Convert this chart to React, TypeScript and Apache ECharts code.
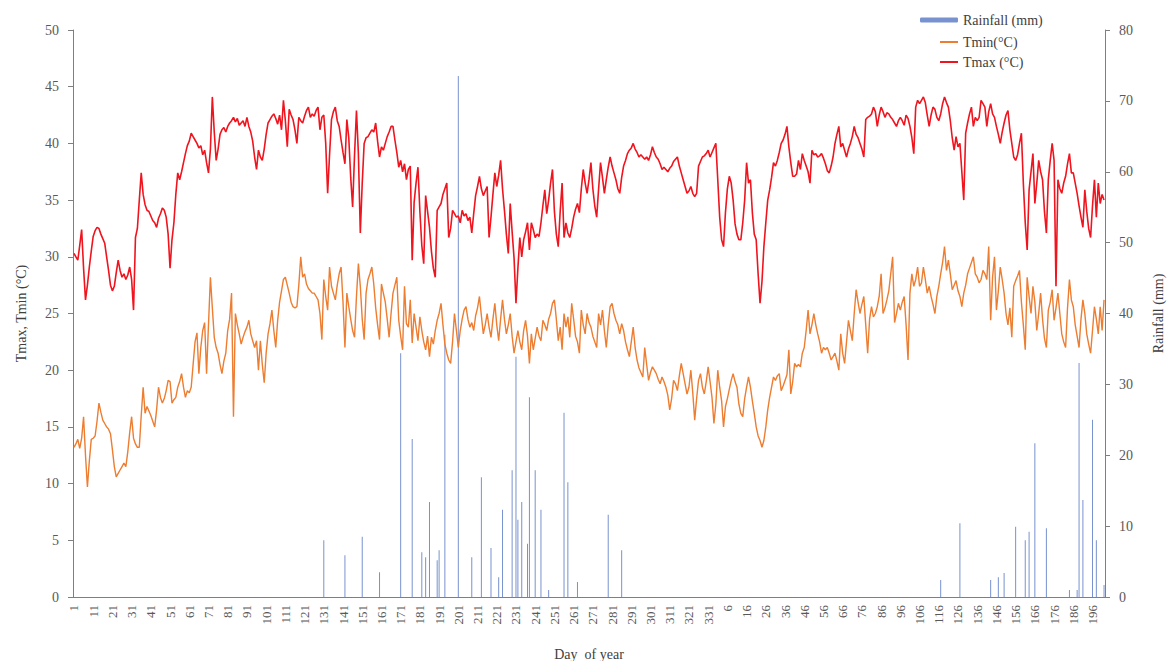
import React, { useEffect, useRef } from "react";
import * as echarts from "echarts";

// Day-of-year labels: first year days 1..335, second year days 1..202
const year1Days: number[] = Array.from({ length: 335 }, (_, k) => k + 1);
const year2Days: number[] = Array.from({ length: 202 }, (_, k) => k + 1);
const dayLabels: string[] = [...year1Days, ...year2Days].map(String);

// Daily maximum temperature (°C)
const tmax: number[] = [
  30.3, 30.0, 29.7, 31.0, 32.4, 29.0, 26.2, 27.5, 29.1, 30.5,
  31.8, 32.3, 32.6, 32.5, 32.0, 31.6, 31.2, 30.0, 28.8, 27.5,
  27.0, 27.4, 28.6, 29.7, 28.8, 28.2, 28.5, 28.0, 28.4, 29.1,
  28.0, 25.3, 31.7, 32.5, 35.0, 37.4, 35.5, 34.6, 34.1, 34.0,
  33.6, 33.2, 33.0, 32.6, 33.4, 33.8, 34.3, 34.1, 33.5, 32.0,
  29.0, 31.5, 33.0, 35.5, 37.4, 36.8, 37.5, 38.3, 39.1, 39.8,
  40.2, 40.9, 40.6, 40.3, 40.0, 39.6, 39.8, 39.0, 39.4, 38.3,
  37.4, 39.5, 44.1, 41.0, 38.5, 39.5, 40.8, 41.2, 41.4, 41.0,
  41.5, 41.8, 42.0, 42.3, 41.9, 42.2, 41.6, 41.8, 42.0, 41.5,
  42.3, 41.5, 41.0, 40.2, 38.8, 37.7, 39.4, 38.8, 38.5, 39.5,
  40.8, 41.8, 42.1, 42.4, 42.6, 42.2, 41.7, 42.5, 41.2, 43.8,
  42.0, 39.7, 43.0, 42.5, 42.1, 41.2, 40.0, 42.3, 42.0, 41.8,
  42.4, 42.9, 43.2, 42.3, 42.6, 42.4, 42.9, 43.2, 41.2, 42.3,
  42.5, 40.0, 35.6, 39.0, 42.1, 42.8, 43.2, 42.0, 41.5, 40.3,
  39.2, 38.2, 42.1, 40.5, 37.0, 34.4, 39.0, 42.9, 39.1, 32.1,
  36.5, 40.0, 40.5, 40.6, 40.9, 41.2, 41.0, 41.8, 40.2, 38.8,
  39.7, 39.4, 40.0, 40.6, 41.0, 41.5, 41.5, 40.3, 39.2, 37.9,
  38.5, 37.5, 38.2, 36.8, 37.7, 38.0, 29.7, 34.8, 36.5, 37.9,
  34.0, 31.0, 29.4, 35.4, 34.0, 32.6, 30.5, 29.0, 28.2, 34.1,
  34.4, 34.7, 35.5, 36.0, 36.5, 31.7, 32.5, 34.1, 33.8, 33.5,
  33.6, 33.0, 34.1, 33.6, 33.8, 33.2, 33.5, 32.1, 33.8, 35.4,
  36.2, 37.1, 36.0, 35.4, 35.8, 36.2, 31.7, 33.5, 35.5, 37.4,
  36.2, 37.2, 38.5, 36.0, 34.1, 32.0, 30.3, 34.7, 32.2, 29.9,
  25.9, 29.0, 31.7, 30.0, 31.5, 32.2, 33.0, 30.6, 33.0, 32.4,
  31.7, 32.0, 31.8, 33.0, 34.5, 35.9, 33.8, 35.0, 36.5, 37.7,
  34.0, 32.0, 30.9, 34.0, 36.5, 31.7, 33.0, 32.1, 31.7, 32.5,
  33.5, 34.2, 34.7, 33.9, 36.0, 37.7, 36.5, 35.6, 36.8, 38.3,
  36.0, 34.5, 33.5, 36.0, 38.3, 37.0, 35.6, 36.8, 37.9, 38.8,
  38.0, 37.4, 36.8, 36.0, 35.6, 37.0, 38.0, 38.5, 39.1, 39.4,
  39.6, 40.0, 39.5, 39.2, 38.8, 39.0, 38.8, 38.6, 38.8, 38.5,
  39.0, 39.7, 39.2, 38.8, 38.6, 38.2, 37.7, 37.9, 37.7, 37.5,
  37.8, 38.0, 38.4, 38.6, 38.8, 38.0, 37.4, 36.8, 36.2, 35.6,
  35.8, 36.2, 35.6, 35.3, 35.6, 38.0, 38.4, 38.8, 38.9, 39.1,
  39.4, 38.8, 39.2, 39.6, 40.0, 36.8, 33.5, 31.5, 30.9, 33.9,
  36.0, 37.1, 36.5, 35.0, 32.9, 32.0, 31.5, 31.5, 33.0, 35.0,
  38.3, 36.5, 36.8, 33.9, 32.0, 31.5, 28.5, 25.9, 27.8, 30.9,
  33.0, 35.0, 35.9, 37.0, 38.3, 38.0, 38.5, 39.2, 40.0, 40.3,
  40.8, 41.5, 39.7, 38.3, 37.1, 37.1, 37.3, 38.5, 37.7, 39.1,
  38.5, 38.0, 37.5, 36.5, 39.4, 39.0, 39.1, 38.8, 38.9, 39.1,
  38.7, 38.2, 37.6, 37.4, 38.0, 38.8, 40.0, 40.8, 41.5, 39.7,
  40.0, 39.4, 38.8, 39.5, 40.0, 40.6, 41.5, 40.8, 40.5, 40.0,
  39.5, 38.8, 42.1, 42.3, 42.4, 42.6, 43.2, 42.8, 41.5, 42.5,
  43.2, 42.8, 42.3, 42.7, 42.6, 42.3, 42.1, 41.8, 41.5, 42.0,
  42.3, 42.0, 41.6, 42.5, 42.2, 41.5, 40.5, 39.1, 43.2, 43.8,
  43.5, 43.8, 44.1, 43.6, 42.5, 41.5, 42.5, 43.2, 43.0, 42.3,
  42.0, 42.6, 43.5, 44.1, 43.6, 43.2, 42.0, 40.5, 39.4, 40.6,
  39.7, 40.0, 37.5, 35.0, 40.9, 41.8, 42.6, 43.2, 41.5, 42.3,
  42.0, 42.3, 43.8, 43.5, 43.2, 41.5, 42.8, 43.5, 42.6, 42.3,
  41.5, 40.8, 40.0, 41.0, 41.8, 42.5, 42.9, 41.2, 40.0, 38.8,
  38.5, 39.0, 40.0, 40.9, 36.5, 33.0, 30.6, 35.9, 37.5, 39.1,
  34.7, 36.5, 38.5, 37.5, 36.8, 34.0, 32.1, 36.8, 38.5, 40.0,
  38.5, 27.4, 36.8, 36.0, 35.6, 36.5, 37.1, 38.2, 39.1, 37.4,
  37.4, 36.5, 35.6, 34.5, 33.5, 32.6, 35.9, 34.0, 32.5, 31.7,
  34.5, 36.8, 33.5, 36.5, 34.7, 35.5, 35.0,
];

// Daily minimum temperature (°C)
const tmin: number[] = [
  13.2, 13.5, 13.9, 13.1, 14.0, 15.9, 12.5, 9.7, 12.0, 13.9,
  14.0, 14.2, 15.5, 17.1, 16.3, 15.6, 15.3, 15.0, 14.8, 14.4,
  13.0, 11.5, 10.6, 10.9, 11.2, 11.5, 11.8, 11.5, 12.8, 14.5,
  15.9, 14.0, 13.5, 13.2, 13.2, 16.0, 18.5, 16.2, 16.8, 16.4,
  16.0, 15.5, 15.0, 16.5, 18.5, 17.6, 17.1, 17.5, 18.2, 19.1,
  19.0, 17.1, 17.4, 17.6, 18.5, 19.0, 19.7, 18.5, 17.6, 18.2,
  18.0, 18.5, 20.5, 22.5, 23.3, 19.7, 22.0, 23.5, 24.2, 19.7,
  24.0, 28.2, 25.5, 22.9, 22.0, 21.5, 20.5, 19.7, 20.8, 21.5,
  23.5, 24.5, 26.8, 15.9, 25.0, 24.0, 23.2, 22.3, 22.9, 23.4,
  23.8, 24.4, 23.2, 22.6, 22.0, 22.6, 20.0, 22.6, 20.5, 18.9,
  21.5, 23.2, 24.1, 25.3, 23.5, 22.0, 24.4, 26.0, 27.0, 28.0,
  28.2, 27.5, 26.8, 26.0, 25.6, 25.5, 25.6, 27.5, 30.0, 28.2,
  28.5, 27.6, 27.2, 27.0, 26.8, 26.8, 26.5, 26.2, 25.0, 22.7,
  28.0, 26.5, 25.3, 29.1, 27.4, 26.8, 26.2, 27.5, 28.5, 29.1,
  26.0, 22.0, 26.8, 25.6, 24.5, 23.5, 22.9, 26.5, 29.4, 27.4,
  24.5, 22.7, 26.8, 28.0, 28.5, 29.1, 27.6, 25.5, 24.0, 22.7,
  27.6, 26.8, 26.0, 24.5, 22.9, 25.0, 26.8, 27.5, 28.2, 24.4,
  23.0, 21.8, 27.4, 24.1, 23.8, 26.2, 22.4, 25.0, 23.8, 22.6,
  24.7, 23.5, 22.5, 21.8, 23.0, 21.2, 22.9, 22.3, 23.5, 24.4,
  25.0, 25.9, 24.0, 22.3, 21.5, 20.9, 20.6, 22.5, 25.0, 23.5,
  22.0, 23.5, 24.5, 25.3, 25.6, 24.5, 23.8, 24.2, 23.5, 24.8,
  25.5, 26.5, 24.8, 23.2, 24.0, 25.0, 23.8, 22.9, 24.5, 25.9,
  24.0, 22.6, 24.5, 26.2, 24.5, 23.2, 24.0, 25.0, 23.0, 21.5,
  22.5, 23.5, 22.5, 21.8, 23.5, 24.4, 23.0, 20.6, 23.2, 21.8,
  22.8, 23.8, 23.0, 22.6, 24.4, 24.0, 23.5, 24.5, 25.0, 25.9,
  26.2, 24.5, 22.6, 23.8, 21.8, 25.0, 23.8, 24.7, 22.9, 25.9,
  24.5, 23.0, 22.5, 21.5, 25.3, 24.0, 23.2, 25.0, 24.2, 23.8,
  23.0, 22.5, 22.0, 25.0, 24.0, 25.3, 23.5, 22.0, 24.0, 25.6,
  25.9, 25.0, 24.4, 24.0, 23.2, 24.1, 23.5, 22.5, 21.8, 21.2,
  22.5, 23.8, 22.0, 20.9, 20.2, 19.8, 19.4, 22.0, 20.5, 19.1,
  19.8, 20.3, 20.0, 19.7, 19.2, 18.8, 19.4, 19.0, 18.5, 17.8,
  16.5, 17.5, 19.1, 18.8, 18.2, 19.5, 20.6, 19.7, 18.8, 17.9,
  18.5, 20.0, 18.0, 15.6, 17.5, 19.1, 19.7, 18.5, 17.9, 19.0,
  20.3, 19.0, 17.6, 15.3, 17.0, 20.0, 18.5, 17.3, 15.0, 16.8,
  17.5, 18.3, 19.1, 19.7, 19.0, 18.5, 17.0, 16.2, 15.9, 17.5,
  18.5, 19.4, 18.5, 17.3, 16.2, 15.0, 14.2, 13.8, 13.2, 13.8,
  15.0, 16.5, 17.6, 18.5, 19.4, 19.1, 19.5, 19.7, 18.2, 18.6,
  19.1, 19.6, 21.8, 17.9, 19.0, 20.6, 20.3, 20.5, 20.3, 21.5,
  22.0, 23.5, 25.3, 23.2, 24.0, 25.0, 24.0, 23.2, 22.5, 21.5,
  22.0, 21.8, 22.0, 21.5, 20.9, 21.2, 21.5, 20.8, 20.0, 23.2,
  21.5, 20.6, 22.5, 24.4, 23.5, 22.6, 25.0, 27.1, 26.0, 25.0,
  25.8, 26.5, 24.0, 21.5, 24.5, 25.6, 24.7, 25.0, 25.6, 26.5,
  28.5, 25.0, 25.5, 26.2, 27.0, 28.5, 30.0, 24.2, 25.0, 25.9,
  25.3, 26.0, 26.5, 24.0, 20.9, 26.8, 28.5, 27.4, 28.0, 29.1,
  27.4, 27.7, 29.1, 28.0, 26.8, 27.4, 26.5, 25.8, 25.0, 26.5,
  27.4, 28.5, 29.5, 30.9, 28.8, 29.7, 28.5, 27.1, 27.5, 27.9,
  27.0, 26.5, 25.6, 26.8, 27.5, 28.5, 29.0, 29.5, 30.0, 28.5,
  28.2, 27.7, 28.0, 28.8, 28.5, 28.0, 30.9, 24.4, 28.2, 30.0,
  25.3, 27.0, 29.1, 28.0, 26.8, 25.0, 24.0, 25.5, 22.9, 27.4,
  27.9, 28.3, 28.8, 26.0, 24.0, 21.8, 28.2, 26.5, 25.0, 27.4,
  26.0, 23.5, 25.0, 26.8, 24.5, 22.8, 22.0, 25.3, 26.0, 27.1,
  24.4, 25.5, 26.8, 25.0, 23.2, 22.5, 22.0, 25.5, 28.0, 26.2,
  25.6, 24.0, 23.0, 22.0, 24.5, 26.2, 25.0, 23.2, 22.3, 21.5,
  23.5, 25.6, 24.5, 23.2, 25.6, 23.5, 26.2,
];

// Rainfall (mm): positions (index in the day list) of rainy days and their amounts
const rainIndex: number[] = [
  130, 141, 150, 159, 170, 176, 181, 183, 185, 189, 190, 193, 200, 207, 212,
  217, 221, 223, 228, 230, 231, 233, 236, 237, 240, 243, 247, 255, 257, 262,
  278, 285, 451, 461, 477, 481, 484, 490, 495, 497, 500, 506, 518, 522, 523,
  525, 530, 532, 536,
];
const rainAmount: number[] = [
  8.0, 5.9, 8.5, 3.5, 34.4, 22.3, 6.3, 5.6, 13.4, 5.2, 6.6, 37.0, 73.5, 5.6, 16.9,
  6.9, 2.8, 12.3, 17.9, 33.9, 10.9, 13.4, 7.5, 28.2, 17.9, 12.3, 1.0, 26.0, 16.2, 2.1,
  11.6, 6.6, 2.4, 10.4, 2.4, 2.8, 3.4, 9.9, 8.0, 9.2, 21.7, 9.7, 1.0, 1.0, 33.0,
  13.7, 25.0, 8.0, 1.7,
];

const leftTicks = { min: 0, max: 50, interval: 5 };
const rightTicks = { min: 0, max: 80, interval: 10 };

const SERIF = "'Liberation Serif', 'Times New Roman', serif";

export default function App() {
  const ref = useRef<HTMLDivElement>(null);

  useEffect(() => {
    if (!ref.current) return;
    document.body.style.margin = "0";
    const chart = echarts.init(ref.current, undefined, { renderer: "svg" });

    const rain: number[] = dayLabels.map(() => 0);
    rainIndex.forEach((idx, k) => {
      rain[idx] = rainAmount[k];
    });

    const axisLabelStyle = { fontFamily: SERIF, fontSize: 14, color: "#595959" };

    chart.setOption({
      animation: false,
      backgroundColor: "#ffffff",
      textStyle: { fontFamily: SERIF },
      grid: { left: 73, right: 62, top: 30, bottom: 64, containLabel: false, outerBoundsMode: "none" },
      legend: [
        {
          data: ["Rainfall (mm)"],
          left: 915,
          top: 8,
          itemWidth: 38,
          itemHeight: 5,
          textStyle: { fontFamily: SERIF, fontSize: 14, color: "#404040" },
        },
        {
          data: [
            { name: "Tmin(°C)", icon: "rect" },
            { name: "Tmax (°C)", icon: "rect" },
          ],
          orient: "vertical",
          left: 935,
          top: 30,
          itemWidth: 18,
          itemHeight: 2,
          itemGap: 6,
          textStyle: { fontFamily: SERIF, fontSize: 14, color: "#404040", lineHeight: 14 },
        },
      ],
      xAxis: {
        type: "category",
        data: dayLabels,
        boundaryGap: true,
        name: "Day  of year",
        nameLocation: "middle",
        nameGap: 50,
        nameTextStyle: { fontFamily: SERIF, fontSize: 14, color: "#404040" },
        axisLine: { lineStyle: { color: "#7f7f7f", width: 1 } },
        axisTick: { interval: 9, alignWithLabel: true, length: 5, lineStyle: { color: "#7f7f7f" } },
        axisLabel: {
          interval: 9,
          rotate: 90,
          margin: 8,
          fontFamily: SERIF,
          fontSize: 13,
          color: "#595959",
        },
        splitLine: { show: false },
      },
      yAxis: [
        {
          type: "value",
          min: leftTicks.min,
          max: leftTicks.max,
          interval: leftTicks.interval,
          name: "Tmax, Tmin (°C)",
          nameLocation: "middle",
          nameRotate: 90,
          nameGap: 45,
          nameTextStyle: { fontFamily: SERIF, fontSize: 14, color: "#404040" },
          axisLine: { show: true, lineStyle: { color: "#7f7f7f" } },
          axisTick: { show: true, length: 5, lineStyle: { color: "#7f7f7f" } },
          axisLabel: { ...axisLabelStyle, margin: 14 },
          splitLine: { show: false },
        },
        {
          type: "value",
          position: "right",
          min: rightTicks.min,
          max: rightTicks.max,
          interval: rightTicks.interval,
          name: "Rainfall (mm)",
          nameLocation: "middle",
          nameRotate: 90,
          nameGap: 46,
          nameTextStyle: { fontFamily: SERIF, fontSize: 14, color: "#404040" },
          axisLine: { show: true, lineStyle: { color: "#7f7f7f" } },
          axisTick: { show: true, length: 5, lineStyle: { color: "#7f7f7f" } },
          axisLabel: { ...axisLabelStyle, margin: 14 },
          splitLine: { show: false },
        },
      ],
      series: [
        {
          name: "Rainfall (mm)",
          type: "bar",
          yAxisIndex: 1,
          data: rain,
          barWidth: 1,
          itemStyle: { color: "#7892D0" },
          z: 1,
        },
        {
          name: "Tmin(°C)",
          type: "line",
          yAxisIndex: 0,
          data: tmin,
          symbol: "none",
          lineStyle: { color: "#ED7D31", width: 1.4 },
          itemStyle: { color: "#ED7D31" },
          z: 2,
        },
        {
          name: "Tmax (°C)",
          type: "line",
          yAxisIndex: 0,
          data: tmax,
          symbol: "none",
          lineStyle: { color: "#F0141E", width: 1.6 },
          itemStyle: { color: "#F0141E" },
          z: 3,
        },
      ],
    });

    return () => chart.dispose();
  }, []);

  return <div ref={ref} style={{ width: 1167, height: 661, background: "#fff" }} />;
}
